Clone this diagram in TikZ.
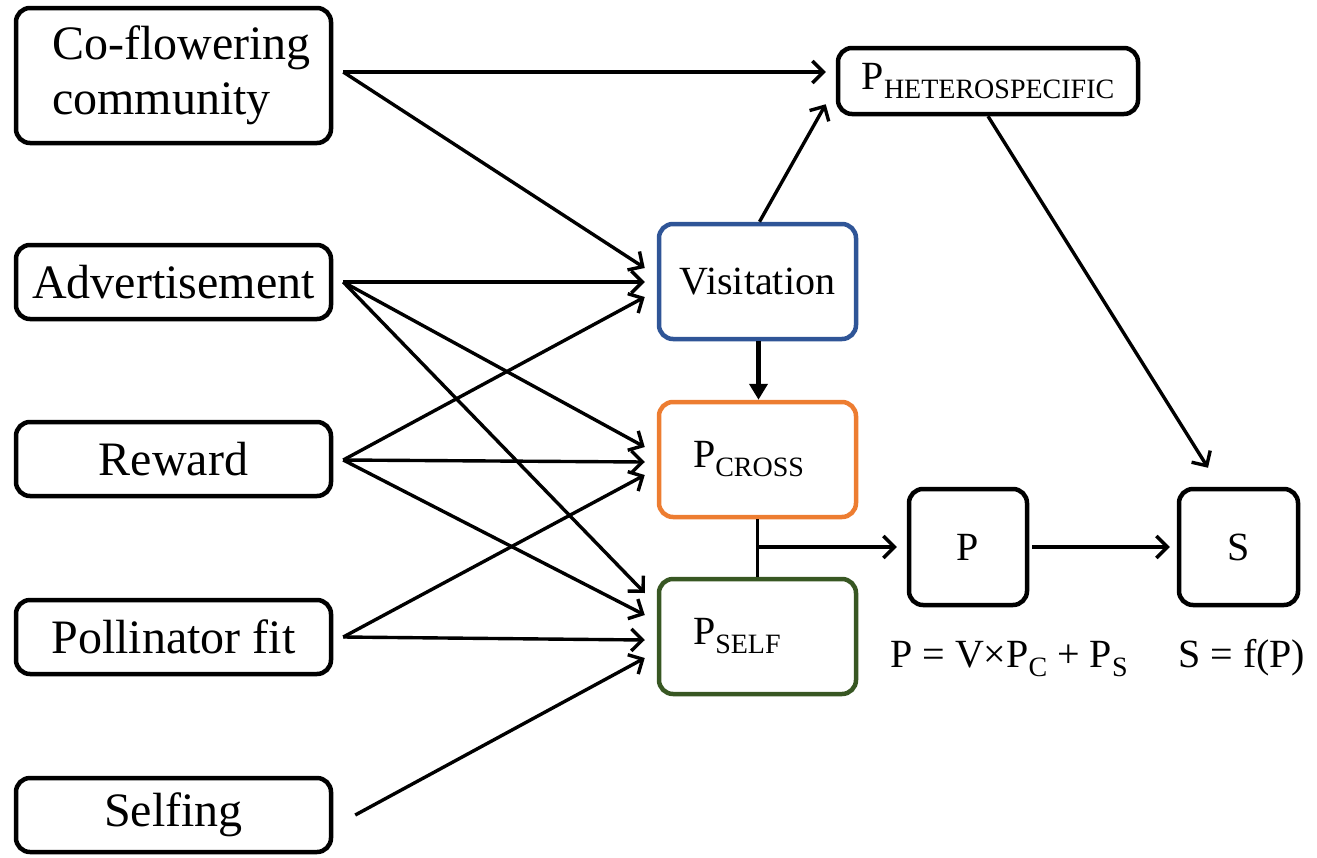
\documentclass[tikz,border=0pt]{standalone}
\usepackage{fontspec}
\setmainfont{Liberation Serif}
\usetikzlibrary{arrows.meta,calc}
\definecolor{visblue}{RGB}{47,85,151}
\definecolor{crossor}{RGB}{237,125,49}
\definecolor{selfgr}{RGB}{56,87,35}
\newcommand{\mysub}[1]{\raisebox{-9pt}{\fontsize{28}{28}\selectfont #1}}
\begin{document}
\begin{tikzpicture}[x=1pt,y=-1pt,
 box/.style={draw, line width=4.5pt, rounded corners=14pt, inner sep=0pt, align=center},
 lbox/.style={box, minimum width=315pt, minimum height=74pt, font=\fontsize{48}{55}\selectfont},
 mbox/.style={box, minimum width=197pt, minimum height=115pt, font=\fontsize{40}{44}\selectfont},
 rbox/.style={box, minimum height=116pt, font=\fontsize{40}{44}\selectfont},
 ftext/.style={inner sep=0pt, anchor=base west, font=\fontsize{40}{44}\selectfont},
 arr/.style={line width=3.4pt, -{Straight Barb[length=11pt,width=22pt]}},
 thickarr/.style={line width=5pt, -{Triangle[length=16pt,width=18pt]}},
 ln/.style={line width=3.4pt}]
\useasboundingbox (0,0) rectangle (1317,857);
% left column
\node[lbox, minimum height=135pt, align=left] (cof) at (173.5,75.5) {\hspace*{16pt}Co-flowering\\\hspace*{16pt}community};
\node[lbox] (adv) at (173.5,282) {Advertisement};
\node[lbox] (rew) at (173.5,459) {Reward};
\node[lbox] (pol) at (173.5,637) {Pollinator fit};
\node[lbox] (sel) at (173.5,815) {Selfing};
% middle column
\node[mbox, draw=visblue] (vis) at (757.5,281.5) {\raisebox{-3pt}{Visitation}};
\node[mbox, draw=crossor, inner xsep=34pt, text width=129pt, align=left] (pc) at (757.5,459.5) {P\mysub{CROSS}};
\node[mbox, draw=selfgr, inner xsep=34pt, text width=129pt, align=left] (ps) at (757.5,636.5) {P\mysub{SELF}};
% right
\node[box, minimum width=300pt, minimum height=66pt, font=\fontsize{40}{44}\selectfont] (het) at (988,81) {P\mysub{HETEROSPECIFIC}};
\node[rbox, minimum width=118pt] (p) at (968,547) {P};
\node[rbox, minimum width=119pt] (s) at (1238.5,547) {S};
\node[ftext] (fp) at (890,667) {P = V×P\mysub{C} + P\mysub{S}};
\node[ftext] (fs) at (1178,667) {S = f(P)};
% start points
\coordinate (cofo) at ($(cof.east)+(10,-3.5)$);
\coordinate (advo) at ($(adv.east)+(10,0)$);
\coordinate (rewo) at ($(rew.east)+(10,1)$);
\coordinate (polo) at ($(pol.east)+(10,0)$);
\coordinate (selo) at ($(sel.east)+(22,0)$);
% connectors
\draw[arr] (cofo) -- ($(het.west)+(-10,-9)$);
\draw[arr] (cofo) -- ($(vis.west)+(-12,-13.5)$);
\draw[arr] (advo) -- ($(vis.west)+(-12,0.5)$);
\draw[arr] (advo) -- ($(pc.west)+(-12,-12.5)$);
\draw[arr] (advo) -- ($(ps.west)+(-12,-43.5)$);
\draw[arr] (rewo) -- ($(vis.west)+(-12,15.5)$);
\draw[arr] (rewo) -- ($(pc.west)+(-12,2.5)$);
\draw[arr] (rewo) -- ($(ps.west)+(-12,-21.5)$);
\draw[arr] (polo) -- ($(pc.west)+(-12,15.5)$);
\draw[arr] (polo) -- ($(ps.west)+(-12,3.5)$);
\draw[arr] (selo) -- ($(ps.west)+(-12,21.5)$);
\draw[arr] ($(vis.north)+(2,0)$) -- ($(het.south west)+(-10,-12)$);
\draw[thickarr] ($(vis.south)+(1,0)$) -- ($(pc.north)+(1,0)$);
\draw[arr] (het.south) -- ($(s.north)+(-30.5,-19)$);
\draw[ln] (pc.south) -- (ps.north);
\coordinate (j) at (pc.south |- p.west);
\draw[arr] (j) -- ($(p.west)+(-10,0)$);
\draw[arr] ($(p.east)+(3,0)$) -- ($(s.west)+(-7,0)$);
\end{tikzpicture}
\end{document}
